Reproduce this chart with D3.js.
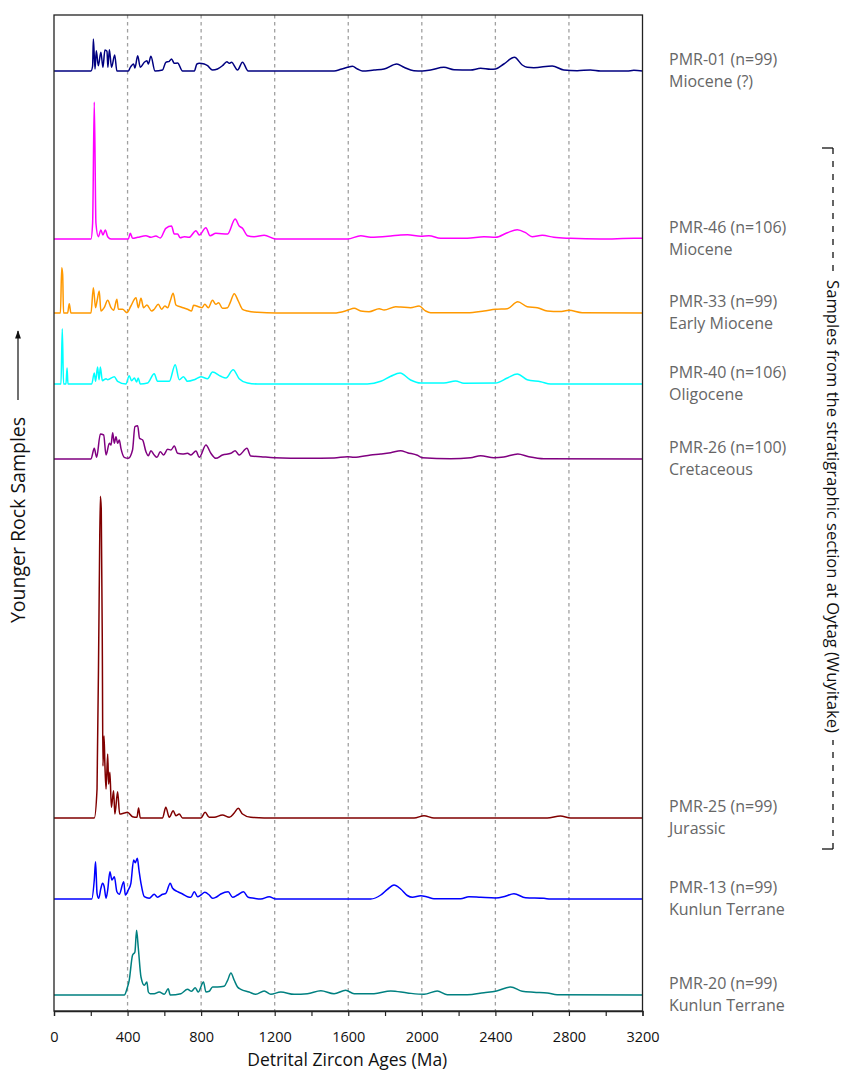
<!DOCTYPE html>
<html><head><meta charset="utf-8">
<script src="https://cdn.jsdelivr.net/npm/d3@7"></script>
<style>body{margin:0;background:#fff}svg{display:block}</style>
</head><body><svg id="c" width="843" height="1070"></svg>
<script>
// ---------------- DATA ----------------
const sampleIds = ["PMR-01 (n=99)","PMR-46 (n=106)","PMR-33 (n=99)","PMR-40 (n=106)","PMR-26 (n=100)","PMR-25 (n=99)","PMR-13 (n=99)","PMR-20 (n=99)"];
const sampleAges = ["Miocene (?)","Miocene","Early Miocene","Oligocene","Cretaceous","Jurassic","Kunlun Terrane","Kunlun Terrane"];
// stacking offset of each sample's zero line (density units)
const stackOffsets = [924,756,682,611,536,177,96,0];
const xTickValues = [0,400,800,1200,1600,2000,2400,2800,3200];
const gridValues = [400,800,1200,1600,2000,2400,2800];

// [age (Ma), relative probability density]
const pmr01 = [[0,0],[201,0],[210,5],[214,32],[223,2],[230,20.3],[241,5.3],[255,18.7],[266,3.7],[277,21],[288,19.7],[293,3.7],[301,21.3],[313,3.7],[330,16],[342,0],[404,0],[415,3.7],[433,7],[440,3],[455,15.3],[469,3.7],[491,8.7],[505,10.3],[513,7],[527,14.7],[549,0],[590,1],[608,8.7],[627,9.7],[639,12],[654,7.7],[672,8],[699,0],[763,0],[777,7],[790,7.7],[817,7],[835,5.3],[862,1],[889,2],[916,5.3],[940,9.3],[953,7.7],[965,8.7],[998,1],[1025,8.7],[1056,0],[1523,0],[1559,1.7],[1596,3.7],[1623,4.7],[1650,2],[1677,0],[1740,1],[1795,2],[1864,7],[1903,3.7],[1957,0.3],[2003,0],[2048,1],[2120,3.7],[2175,1.3],[2265,1],[2320,2.7],[2374,1.7],[2401,2],[2446,7],[2504,13.7],[2546,6],[2573,3.7],[2609,3.3],[2709,5],[2772,1],[2845,0.3],[2917,1],[2972,0],[3116,0],[3153,0.7],[3200,0]];
const pmr46 = [[0,0],[201,0],[210,15.7],[219,137],[228,15.7],[241,2.3],[255,9],[266,4],[279,9],[292,2.3],[310,0],[404,0],[415,5.7],[427,0.7],[455,1.7],[500,3.3],[527,1.7],[554,3],[578,1],[608,10.7],[639,13],[654,5],[672,5],[686,1.3],[708,2.3],[735,1.7],[772,8.3],[790,4],[826,11.3],[849,3.3],[880,5.7],[944,5],[985,20],[1007,13],[1025,10.7],[1052,3.3],[1088,2.3],[1143,3.7],[1206,0],[1596,0],[1668,3.3],[1722,1.7],[1831,3],[1885,4],[1922,4.3],[1994,2.8],[2039,3.2],[2102,0.7],[2247,0.7],[2338,2.3],[2401,1.7],[2465,6.3],[2519,9.3],[2564,6.3],[2600,2.3],[2655,3.7],[2718,1.7],[2809,0.7],[2972,0],[3153,0.7],[3200,0.7]];
const pmr33 = [[0,0],[35,0],[42,45.3],[47,38.7],[52,0],[74,0],[83,9.3],[92,0],[201,0],[214,25.3],[226,5.3],[234,12],[246,22],[255,2],[273,5.3],[292,12.7],[310,5.3],[324,2.7],[342,13.7],[350,3.7],[373,3.7],[397,0.3],[418,7],[446,15.3],[458,5.3],[473,14.7],[487,5.3],[505,8],[531,2],[545,3.7],[567,8.7],[585,3.7],[603,7],[618,5.3],[632,12],[648,19.7],[663,8],[690,6],[726,3.7],[748,2],[759,7.7],[790,6],[804,5.3],[820,8.7],[839,5.3],[862,12.7],[880,8.7],[895,10.3],[916,4.7],[944,5.3],[958,10.3],[980,19.3],[1002,12],[1025,3.7],[1052,2],[1107,0.7],[1206,0],[1523,0],[1596,2.7],[1632,4.7],[1668,2],[1713,1.3],[1768,4.3],[1795,3],[1858,6.3],[1885,6],[1939,5.3],[1985,7],[2021,2],[2048,0.3],[2247,0.3],[2338,2],[2401,3.7],[2465,4.3],[2522,11.3],[2573,6.3],[2628,5.3],[2682,2],[2750,1.5],[2800,2.7],[2872,0.3],[3200,0]];
const pmr40 = [[0,0],[38,0],[45,55.3],[52,0],[65,0],[71,16],[76,0],[205,0],[219,11],[226,2.7],[237,17],[245,4.3],[252,17],[263,3.3],[283,5.3],[292,4.3],[328,7.3],[346,2.7],[391,0],[409,8.3],[422,3.3],[437,6],[449,2],[458,6],[469,0],[509,1],[545,10.3],[563,2.7],[627,2.7],[659,19.3],[681,4.3],[704,7.3],[726,2.7],[763,4.3],[799,7.3],[835,5.3],[862,12],[907,7.7],[935,6],[974,14.3],[1007,5.3],[1052,1],[1107,0],[1704,0],[1777,2.7],[1831,7.7],[1882,11],[1939,4],[1994,1],[2120,1],[2184,3],[2229,0.7],[2401,1],[2465,6],[2519,10],[2573,4.3],[2646,2.3],[2700,0],[3200,0]];
const pmr26 = [[0,0],[201,0],[219,10.7],[232,1.7],[252,25],[270,24],[283,4],[301,15.7],[310,14],[319,26.3],[328,15.7],[337,22.3],[346,15.7],[355,19],[364,10.7],[382,1.7],[404,0.7],[427,9],[440,32.3],[455,33.3],[465,20.7],[482,19],[500,7.3],[513,3.3],[527,8.3],[545,4],[560,1.7],[578,7.3],[596,4],[618,9.7],[636,9],[654,13],[672,5.7],[699,5],[726,5.7],[744,4],[772,8],[790,1.7],[826,14],[853,5.7],[880,0.7],[916,4],[962,5.7],[985,8.3],[1007,4],[1049,10.7],[1070,3],[1125,2.3],[1197,1.3],[1378,0.7],[1523,1],[1596,2.3],[1632,1.7],[1722,4],[1777,5],[1831,6.3],[1885,8.3],[1922,6.3],[1976,3.7],[2003,1.3],[2157,0.3],[2265,1.3],[2320,3.3],[2392,1.3],[2446,2],[2522,5],[2582,2.3],[2664,0.3],[3200,0]];
const pmr25 = [[0,0],[219,0],[234,29],[246,229],[252,321.7],[257,309],[263,162],[266,52],[272,82],[277,52],[283,29],[292,64],[297,34],[304,45.7],[312,10.7],[324,27.3],[331,4],[346,26.3],[357,4],[382,5],[400,5.7],[427,1.3],[451,0.7],[460,10],[469,0],[590,0],[608,10.7],[627,0.7],[648,7.3],[663,2.3],[681,4],[699,0],[799,0],[822,5.7],[844,0.7],[871,0.7],[916,3],[953,0.7],[980,5],[1002,9.7],[1025,4],[1070,0.7],[1197,0],[1958,0],[2012,2.3],[2066,0],[2682,0],[2754,2],[2809,0],[3200,0]];
const pmr13 = [[0,0],[205,0],[219,19],[226,37.3],[234,5.7],[243,0.7],[255,10.7],[264,15.7],[273,12.3],[283,0.7],[292,9],[304,27.3],[315,19],[328,22.3],[342,7.3],[355,4.7],[379,17.3],[388,4],[404,9],[418,15.7],[433,39],[442,36.3],[453,40.7],[462,29],[473,15.7],[491,2.3],[518,0.7],[545,4.7],[563,1.7],[590,4.7],[608,5.7],[632,15.7],[645,10.7],[672,7.3],[699,5],[726,2.3],[744,1.7],[763,7.3],[781,2.3],[799,4],[820,6.7],[844,4],[862,0.7],[880,1.7],[907,5],[947,7.3],[971,1.7],[998,4],[1030,7.3],[1056,1.7],[1088,0.7],[1125,0],[1170,2.3],[1206,0],[1722,0],[1777,4],[1813,9.7],[1849,14],[1885,10],[1921,3.5],[1949,1.7],[1994,3.3],[2030,2],[2066,0.3],[2211,0.3],[2256,2.3],[2320,1.7],[2401,1],[2450,2.5],[2501,5.3],[2564,1.3],[2664,0.7],[2700,0],[3200,0]];
const pmr20 = [[0,0],[382,0],[397,6.3],[409,14.7],[427,39.7],[440,43],[449,64.7],[458,48],[473,18],[491,9.7],[505,13],[513,3],[523,1.3],[545,1.3],[572,3],[600,0.7],[621,6.3],[632,0],[690,1.3],[726,5.7],[748,3.7],[768,7.3],[784,3],[813,13],[826,3],[844,3.7],[862,8],[889,8],[925,8.7],[944,14.7],[962,22],[980,14.7],[998,8],[1016,5.7],[1061,3],[1097,0.7],[1143,4],[1179,0.7],[1233,3],[1306,0.7],[1378,1.3],[1451,4.3],[1523,1.3],[1586,4.7],[1632,1.3],[1740,1.3],[1831,4],[1922,2],[2012,0.7],[2084,4],[2139,0.3],[2247,0.3],[2338,2.3],[2401,3.7],[2483,8],[2546,3.7],[2609,2.7],[2682,2],[2736,0.3],[3200,0]];
const seriesValues = [pmr01,pmr46,pmr33,pmr40,pmr26,pmr25,pmr13,pmr20];

// ---------------- STYLE ----------------
const colors = ["#000080","#ff00ff","#ff9900","#00ffff","#800080","#800000","#0000ff","#008080"];
const FONT = "'Open Sans', 'Noto Sans', sans-serif";
const plot = {left:54, right:642.5, top:15, bottom:1011};

// ---------------- DRAW ----------------
const svg = d3.select("#c");
const x = d3.scaleLinear().domain([0,3200]).range([plot.left, plot.right]);
const y = d3.scaleLinear().domain([-16,980]).range([plot.bottom, plot.top]);

// grid
svg.append("g").selectAll("line").data(gridValues).join("line")
  .attr("x1",d=>x(d)).attr("x2",d=>x(d))
  .attr("y1",plot.top).attr("y2",plot.bottom)
  .attr("stroke","#a0a0a0").attr("stroke-width",1.3).attr("stroke-dasharray","3.5,3.5");

// curves
const line = d3.line().curve(d3.curveMonotoneX);
seriesValues.forEach((s,i)=>{
  const off = stackOffsets[i];
  svg.append("path")
    .attr("d", line(s.map(p=>[x(p[0]), y(off+p[1])])))
    .attr("fill","none").attr("stroke",colors[i]).attr("stroke-width",1.5)
    .attr("stroke-linejoin","round");
});

// frame
svg.append("rect").attr("x",plot.left).attr("y",plot.top)
  .attr("width",plot.right-plot.left).attr("height",plot.bottom-plot.top)
  .attr("fill","none").attr("stroke","#222").attr("stroke-width",1.3);

// x axis
const xAxis = d3.axisBottom(x).tickValues(d3.range(0,3201,200)).tickSize(5)
  .tickFormat(d=> xTickValues.includes(d) ? String(d) : "");
const gx = svg.append("g").attr("transform",`translate(0,${plot.bottom})`).call(xAxis);
gx.select(".domain").attr("stroke","#222").attr("stroke-width",1.3);
gx.selectAll(".tick line").attr("stroke","#222").attr("stroke-width",1.2);
gx.selectAll(".tick text").attr("font-family",FONT).attr("font-size",14.5).attr("fill","#111")
  .attr("y",null).attr("dy",null).attr("transform","translate(0,31)");

svg.append("text").attr("x",(plot.left+plot.right)/2-1).attr("y",1066)
  .attr("text-anchor","middle").attr("font-family",FONT).attr("font-size",17.5).attr("fill","#111")
  .text("Detrital Zircon Ages (Ma)");

// labels
sampleIds.forEach((t,i)=>{
  const b = y(stackOffsets[i]);
  const g = svg.append("text").attr("font-family",FONT).attr("font-size",16).attr("fill","#666");
  g.append("tspan").attr("x",669).attr("y",b-6.5).text(t);
  g.append("tspan").attr("x",669).attr("y",b+15.5).text(sampleAges[i]);
});

// left title with arrow
svg.append("defs").append("marker").attr("id","ah").attr("viewBox","0 0 10 10")
  .attr("refX",9).attr("refY",5).attr("markerWidth",7).attr("markerHeight",7).attr("orient","auto")
  .append("path").attr("d","M0,1.5 L10,5 L0,8.5 Z").attr("fill","#111");
svg.append("text").attr("transform","translate(24.5,520) rotate(-90)")
  .attr("text-anchor","middle").attr("font-family",FONT).attr("font-size",19.5).attr("fill","#111")
  .text("Younger Rock Samples");
svg.append("line").attr("x1",18).attr("x2",18).attr("y1",400).attr("y2",331)
  .attr("stroke","#111").attr("stroke-width",1.2).attr("marker-end","url(#ah)");

// right bracket
const bx = 833;
svg.append("line").attr("x1",822).attr("x2",bx).attr("y1",148).attr("y2",148).attr("stroke","#111").attr("stroke-width",1.3);
svg.append("line").attr("x1",822).attr("x2",bx).attr("y1",849).attr("y2",849).attr("stroke","#111").attr("stroke-width",1.3);
svg.append("line").attr("x1",bx).attr("x2",bx).attr("y1",148).attr("y2",272).attr("stroke","#111").attr("stroke-width",1.3).attr("stroke-dasharray","6,7");
svg.append("line").attr("x1",bx).attr("x2",bx).attr("y1",849).attr("y2",740).attr("stroke","#111").attr("stroke-width",1.3).attr("stroke-dasharray","6,7");
svg.append("text").attr("transform",`translate(${bx-6.5},506.5) rotate(90)`)
  .attr("text-anchor","middle").attr("font-family",FONT).attr("font-size",16.6).attr("fill","#111")
  .text("Samples from the stratigraphic section at Oytag (Wuyitake)");
</script></body></html>
